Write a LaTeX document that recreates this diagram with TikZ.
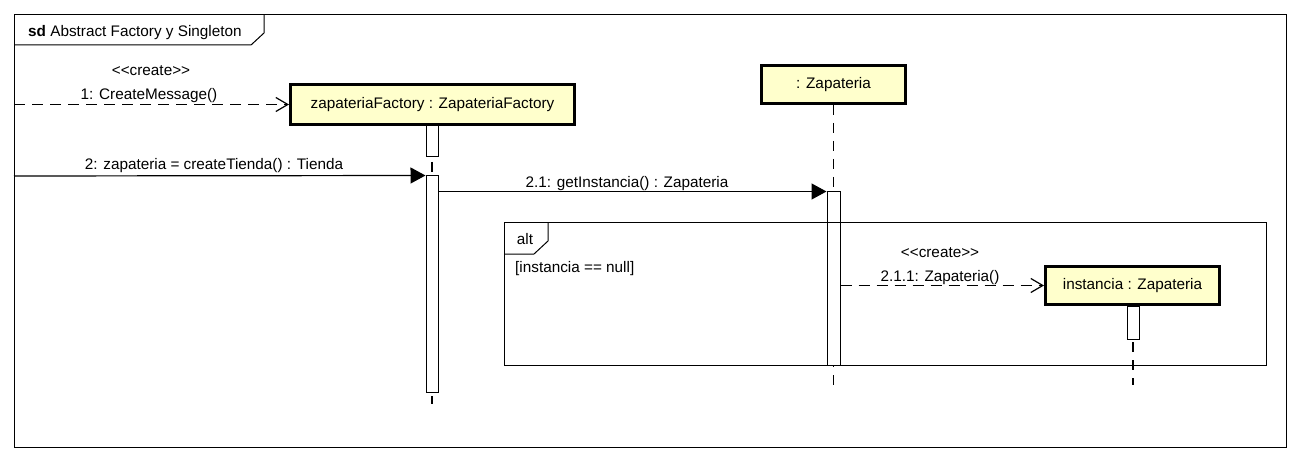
\documentclass[tikz,border=0pt]{standalone}
\usepackage{fontspec}
\setmainfont{Liberation Sans}
\usetikzlibrary{arrows.meta}
\definecolor{boxfill}{RGB}{255,255,204}
\tikzset{
  txt/.style={inner sep=0pt, font=\fontsize{15.3}{18}\selectfont},
  lbl/.style={txt, anchor=base},
  part/.style={txt, draw, line width=3pt, fill=boxfill},
  act/.style={draw, fill=white, line width=1pt, inner sep=0pt},
  life/.style={line width=1.2pt, dash pattern=on 10pt off 8pt},
  sync/.style={line width=1.2pt, -{Triangle[length=15pt,width=16pt]}},
  createmsg/.style={line width=1.2pt, dash pattern=on 11pt off 7pt, -{Straight Barb[length=12pt,width=14pt,line width=1.2pt]}},
  frm/.style={line width=1pt}
}
\begin{document}
\begin{tikzpicture}[x=1pt,y=-1pt]
\path[use as bounding box] (0,0) rectangle (1300,465);
\fill[white] (0,0) rectangle (1300,465);

% outer frame
\draw[frm] (14,15) rectangle (1286,447);
\draw[frm] (14,45) -- (251,45) -- (264,33) -- (264,15);
\node[txt, anchor=base west] (title) at (28,37) {\textbf{sd} Abstract Factory y Singleton};

% participants
\node[part, minimum width=284pt, minimum height=40pt] (zf) at (432.5,104.5) {zapateriaFactory : ZapateriaFactory};
\node[part, minimum width=144pt, minimum height=38pt] (zap) at (833.5,84.5) {: Zapateria};
\node[part, minimum width=174pt, minimum height=38pt] (inst) at (1132.5,285.5) {instancia : Zapateria};

% lifelines
\coordinate (zfend) at (432,404);
\coordinate (zapend) at (833.5,385);
\coordinate (instend) at (1133,385);
\draw[life] (zf.south -| zfend) -- (zfend);
\draw[life] (zap.south) -- (zapend);
\draw[life] (inst.south -| instend) -- (instend);

% activations
\node[act, minimum width=12pt, minimum height=31pt] (a1) at (432,141.5) {};
\node[act, minimum width=12pt, minimum height=216pt] (a2) at (432,284) {};
\node[act, minimum width=13pt, minimum height=173pt] (a3) at (833.5,278.5) {};
\node[act, minimum width=12pt, minimum height=33pt] (a4) at (1133,322.5) {};

% alt fragment
\draw[frm] (504,222) rectangle (1266,365);
\draw[frm] (504,254) -- (534,254) -- (548,241) -- (548,222);
\node[lbl] (altlbl) at (525,244) {alt};
\node[txt, anchor=base west] (guard) at (515,272) {[instancia == null]};

% messages
\coordinate (s1) at (14,104.5);
\coordinate (s2) at (14,176);
\draw[createmsg] (s1) -- (zf.west);
\node[lbl] (m1st) at (151,76) {<{}<create>{}>};
\node[lbl] (m1) at (149,100) {1: CreateMessage()};

\draw[sync] (s2) -- (a2.north west);
\node[lbl] (m2) at (214,170) {2: zapateria = createTienda() : Tienda};

\draw[sync] (a2.east |- a3.north) -- (a3.north west);
\node[lbl] (m3) at (627,187) {2.1: getInstancia() : Zapateria};

\draw[createmsg] (a3.east |- inst.west) -- (inst.west);
\node[lbl] (m4st) at (940,257) {<{}<create>{}>};
\node[lbl] (m4) at (940,281) {2.1.1: Zapateria()};
\end{tikzpicture}
\end{document}
